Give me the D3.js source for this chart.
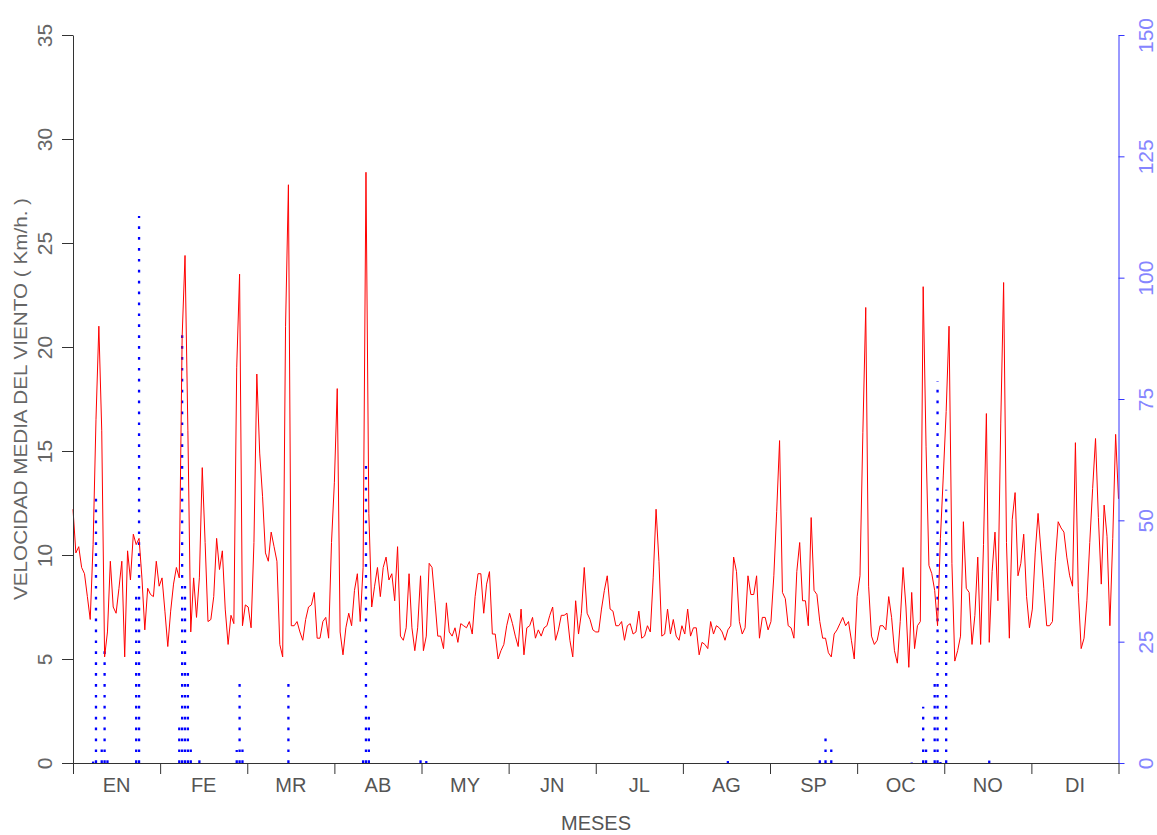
<!DOCTYPE html>
<html>
<head>
<meta charset="utf-8">
<script src="https://cdn.jsdelivr.net/npm/d3@7"></script>
<style>
  html, body { margin: 0; padding: 0; background: #fff; }
  svg { display: block; }
  .lbl { font-family: "Liberation Sans", Arial, sans-serif; }
</style>
</head>
<body>
<svg id="chart" width="1157" height="835"></svg>
<script>
// Month labels along the bottom axis
const months = ["EN", "FE", "MR", "AB", "MY", "JN", "JL", "AG", "SP", "OC", "NO", "DI"];

// Daily mean wind speed (km/h), one value per day of the year
const windSpeed = [
  12.2, 10.1, 10.4, 9.4, 9.1, 8.0, 6.9, 10.5, 16.5, 21.0,
  16.0, 5.1, 6.3, 9.7, 7.5, 7.2, 8.4, 9.7, 5.1, 10.2,
  8.8, 11.0, 10.5, 10.8, 8.9, 6.4, 8.4, 8.1, 8.0, 9.7,
  8.5, 8.9, 7.3, 5.6, 7.3, 8.6, 9.4, 8.9, 20.5, 24.4,
  16.0, 6.3, 8.9, 7.0, 8.9, 14.2, 10.6, 6.8, 6.9, 8.0,
  10.8, 9.3, 10.2, 7.4, 5.7, 7.1, 6.7, 19.0, 23.5, 6.6,
  7.6, 7.5, 6.5, 10.6, 18.7, 14.9, 12.8, 10.1, 9.7, 11.1,
  10.4, 9.7, 5.7, 5.1, 21.0, 27.8, 6.6, 6.6, 6.8, 6.3,
  5.9, 6.9, 7.5, 7.6, 8.2, 6.0, 6.0, 6.8, 7.0, 6.0,
  10.6, 13.5, 18.0, 6.3, 5.2, 6.5, 7.2, 6.6, 8.3, 9.1,
  6.8, 9.4, 28.4, 12.0, 7.5, 8.5, 9.4, 8.0, 9.4, 9.9,
  8.8, 9.1, 7.8, 10.4, 6.1, 5.9, 6.5, 9.1, 6.5, 5.4,
  6.5, 9.0, 5.4, 6.1, 9.6, 9.4, 7.8, 6.1, 6.1, 5.5,
  7.7, 6.3, 6.1, 6.5, 5.8, 6.7, 6.6, 6.5, 6.8, 6.2,
  8.0, 9.1, 9.1, 7.2, 8.6, 9.2, 6.2, 6.2, 5.0, 5.4,
  5.7, 6.6, 7.2, 6.7, 6.1, 5.6, 7.4, 5.2, 6.5, 6.6,
  7.0, 6.0, 6.4, 6.1, 6.5, 6.6, 7.1, 7.5, 5.9, 6.4,
  7.1, 7.1, 7.2, 5.9, 5.1, 7.8, 6.2, 7.2, 9.4, 7.2,
  6.9, 6.4, 6.3, 6.3, 7.4, 8.3, 9.0, 7.4, 7.3, 6.6,
  6.6, 6.8, 5.9, 6.6, 6.7, 6.2, 6.3, 7.3, 6.0, 6.1,
  6.6, 6.3, 8.9, 12.2, 9.7, 6.1, 6.2, 7.4, 6.2, 6.9,
  6.1, 5.9, 6.6, 6.2, 7.4, 6.1, 6.5, 6.5, 5.2, 5.8,
  5.7, 5.5, 6.8, 6.2, 6.6, 6.5, 6.3, 5.9, 6.4, 6.6,
  9.9, 9.2, 6.8, 6.2, 6.5, 9.0, 8.1, 8.1, 9.0, 6.0,
  7.0, 7.0, 6.4, 6.8, 9.0, 12.1, 15.5, 8.2, 7.9, 6.6,
  6.5, 6.0, 9.2, 10.6, 7.8, 7.8, 6.6, 11.8, 8.3, 8.1,
  6.8, 6.0, 6.0, 5.3, 5.1, 6.2, 6.4, 6.7, 7.0, 6.6,
  6.8, 5.9, 5.0, 8.0, 9.0, 15.9, 21.9, 8.5, 6.1, 5.7,
  5.9, 6.6, 6.6, 6.4, 8.0, 7.0, 5.4, 4.8, 6.8, 9.4,
  7.5, 4.6, 8.2, 5.5, 6.6, 6.8, 22.9, 15.2, 9.5, 9.1,
  8.3, 6.6, 10.8, 13.8, 16.9, 21.0, 9.6, 4.9, 5.4, 6.1,
  11.6, 8.4, 8.2, 5.7, 7.1, 9.9, 5.7, 10.5, 16.8, 5.8,
  9.2, 11.1, 7.8, 16.3, 23.1, 10.6, 6.0, 11.7, 13.0, 9.0,
  9.6, 11.0, 8.0, 6.5, 7.4, 10.1, 12.0, 10.2, 8.4, 6.6,
  6.6, 6.8, 9.7, 11.6, 11.3, 11.1, 9.9, 9.0, 8.5, 15.4,
  8.2, 5.5, 6.0, 7.8, 10.6, 13.2, 15.6, 11.8, 8.6, 12.4,
  10.9, 6.6, 10.8, 15.8, 12.7
];

// Days with precipitation (day of year, 0-based) and amounts (right axis)
const rainDays = [7, 8, 10, 11, 12, 22, 23, 37, 38, 39, 40, 41, 44, 57, 58, 59, 75,
                  101, 102, 103, 121, 123, 228, 260, 262, 264, 292, 296, 297, 300,
                  301, 302, 304, 319];
const rainValues = [0.3, 55, 3.4, 24, 1.3, 35, 112.7, 8.5, 89.6, 36.7, 20, 4, 1.3, 2.7,
                    17.1, 3.2, 17.5, 1, 61.6, 11, 1.5, 0.4, 0.4, 1.5, 6.1, 4.4, 0.1,
                    11.6, 3.4, 17.1, 78.7, 0.2, 56.3, 0.5];

// Axis tick values
const leftTicks = [0, 5, 10, 15, 20, 25, 30, 35];
const rightTicks = [0, 25, 50, 75, 100, 125, 150];

const svg = d3.select("#chart");
const plotLeft = 73, plotRight = 1118.5, plotTop = 35, plotBottom = 763;

const x = d3.scaleLinear().domain([0, windSpeed.length - 1]).range([plotLeft, plotRight]);
const yL = d3.scaleLinear().domain([0, 35]).range([plotBottom, plotTop]);
const yR = d3.scaleLinear().domain([0, 150]).range([plotBottom, plotTop]);
const xMonth = d3.scaleLinear().domain([0, 12]).range([plotLeft, plotRight]);
const xBand = d3.scaleBand().domain(months).range([plotLeft, plotRight]);

// Precipitation: dotted vertical lines from zero
const rain = rainDays.map((d, i) => ({ day: d, value: rainValues[i] }));
svg.append("g").selectAll("line")
  .data(rain)
  .join("line")
  .attr("x1", d => x(d.day)).attr("x2", d => x(d.day))
  .attr("y1", yR(0)).attr("y2", d => yR(d.value))
  .attr("stroke", "#0000ff")
  .attr("stroke-width", 2.3)
  .attr("stroke-dasharray", "2.7,8.2");

// Wind speed line
svg.append("path")
  .datum(windSpeed)
  .attr("fill", "none")
  .attr("stroke", "#ff0000")
  .attr("stroke-width", 1)
  .attr("d", d3.line().x((d, i) => x(i)).y(d => yL(d)));

// Left axis
const gL = svg.append("g").attr("transform", `translate(${plotLeft},0)`)
  .call(d3.axisLeft(yL).tickValues(leftTicks).tickSize(11).tickSizeOuter(0));
gL.select(".domain").attr("stroke", "#333");
gL.selectAll(".tick line").attr("stroke", "#333");
gL.selectAll(".tick text")
  .attr("class", "lbl")
  .attr("x", 0).attr("dy", null)
  .attr("transform", "translate(-29,0) rotate(-90)")
  .attr("text-anchor", "middle")
  .attr("dominant-baseline", "central")
  .attr("fill", "#666")
  .style("font-size", "21px");

// Right axis
const gR = svg.append("g").attr("transform", `translate(${plotRight},0)`)
  .call(d3.axisRight(yR).tickValues(rightTicks).tickSize(6).tickSizeOuter(0));
gR.select(".domain").attr("stroke", "#3535ff");
gR.selectAll(".tick line").attr("stroke", "#3535ff");
gR.selectAll(".tick text")
  .attr("class", "lbl")
  .attr("x", 0).attr("dy", null)
  .attr("transform", "translate(27,0) rotate(-90)")
  .attr("text-anchor", "middle")
  .attr("dominant-baseline", "central")
  .attr("fill", "#8585ff")
  .style("font-size", "21px");

// Bottom axis: month boundaries
const gB = svg.append("g").attr("transform", `translate(0,${plotBottom})`)
  .call(d3.axisBottom(xMonth).tickValues(d3.range(13)).tickSize(11).tickSizeOuter(0).tickFormat(""));
gB.select(".domain").attr("stroke", "#333");
gB.selectAll(".tick line").attr("stroke", "#333");

// Month names centred in each month
const gM = svg.append("g").attr("transform", `translate(0,${plotBottom})`)
  .call(d3.axisBottom(xBand).tickSize(0));
gM.select(".domain").remove();
gM.selectAll(".tick text")
  .attr("class", "lbl")
  .attr("y", 22).attr("dy", null)
  .attr("dominant-baseline", "central")
  .attr("fill", "#555")
  .style("font-size", "20px");

// Axis titles
svg.append("text")
  .attr("class", "lbl")
  .attr("transform", "translate(21,399) rotate(-90)")
  .attr("text-anchor", "middle")
  .attr("dominant-baseline", "central")
  .attr("fill", "#666")
  .style("font-size", "18px")
  .attr("textLength", 402)
  .attr("lengthAdjust", "spacingAndGlyphs")
  .text("VELOCIDAD MEDIA DEL VIENTO ( Km/h. )");

svg.append("text")
  .attr("class", "lbl")
  .attr("x", 596).attr("y", 823)
  .attr("text-anchor", "middle")
  .attr("dominant-baseline", "central")
  .attr("fill", "#555")
  .style("font-size", "20px")
  .text("MESES");
</script>
</body>
</html>
